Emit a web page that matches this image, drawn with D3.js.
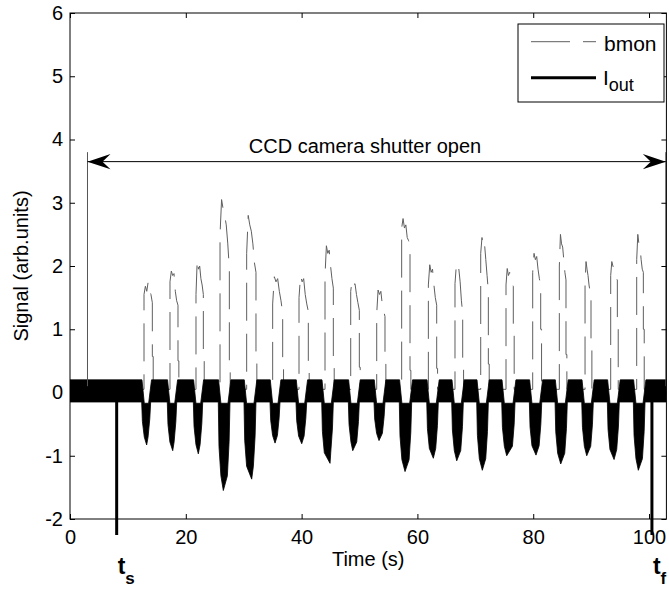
<!DOCTYPE html>
<html>
<head>
<meta charset="utf-8">
<script src="https://cdn.jsdelivr.net/npm/d3@7"></script>
<style>
  html, body { margin: 0; padding: 0; background: #fff; }
  svg { display: block; font-family: "Liberation Sans", Arial, Helvetica, sans-serif; }
</style>
</head>
<body>
<div id="chart"></div>
<script>
// ticks
const xTicks = [0, 20, 40, 60, 80, 100];
const yTicks = [-2, -1, 0, 1, 2, 3, 4, 5, 6];

// bmon pulses: rise / fall time (s), top trace samples, level of the step after the fall
const bmonRise = [12.78, 17.27, 21.76, 25.91, 30.51, 35.0, 39.55, 44.04, 48.48, 52.97,
  57.28, 61.89, 66.49, 70.93, 75.3, 79.91, 84.51, 88.95, 93.38, 97.87];
const bmonFall = [14.22, 18.65, 23.03, 27.52, 32.12, 36.73, 41.16, 45.48, 49.97, 54.4,
  58.72, 63.33, 67.82, 72.25, 76.56, 81.29, 85.66, 89.98, 94.53, 99.02];
const bmonTop = [
  [1.55, 1.68, 1.6, 1.75, 1.62, 1.55, 1.42],
  [1.75, 1.92, 1.85, 1.88, 1.6, 1.45, 1.38],
  [1.55, 2.1, 1.95, 2.0, 1.8, 1.7, 1.55],
  [2.5, 3.05, 2.9, 2.8, 2.65, 2.35, 1.95],
  [2.2, 2.8, 2.65, 2.55, 2.35, 2.05, 1.9],
  [1.4, 1.83, 1.75, 1.8, 1.6, 1.45, 1.25],
  [1.5, 1.85, 1.75, 1.8, 1.55, 1.4, 1.28],
  [1.85, 2.32, 2.2, 2.25, 2.0, 1.8, 1.65],
  [1.6, 1.78, 1.7, 1.72, 1.55, 1.42, 1.3],
  [1.25, 1.62, 1.55, 1.6, 1.4, 1.3, 1.2],
  [2.6, 2.75, 2.6, 2.65, 2.45, 2.4, 2.3],
  [1.7, 2.02, 1.9, 1.95, 1.7, 1.5, 1.38],
  [1.72, 2.0, 1.9, 1.95, 1.75, 1.45, 1.25],
  [2.2, 2.45, 2.3, 2.35, 2.1, 1.85, 1.6],
  [1.7, 1.96, 1.85, 1.9, 1.8, 1.72, 1.68],
  [1.9, 2.2, 2.1, 2.15, 1.95, 1.8, 1.7],
  [2.0, 2.5, 2.35, 2.3, 2.1, 1.9, 1.78],
  [1.72, 2.07, 1.95, 1.85, 1.7, 1.6, 1.6],
  [1.85, 2.07, 2.0, 1.95, 1.85, 1.8, 1.78],
  [2.1, 2.5, 2.35, 2.3, 2.1, 1.95, 1.9]
];
const bmonStep = [0.57, 0.5, 0.52, 0.5, 0.5, 0.42, 0.42, 0.42, 0.4, 0.45,
  0.35, 0.38, 0.36, 0.45, 1.0, 1.0, 0.6, 0.85, 1.0, 1.0];

// Iout: noisy band plus negative dips (start, time of minimum, minimum, end)
const ioutHi = 0.2, ioutLo = -0.15, notchLo = -0.17;
const dipStart = [12.38, 16.80, 21.30, 25.61, 30.05, 34.54, 39.03, 43.47, 48.07, 52.50,
  56.87, 61.61, 65.92, 70.24, 74.56, 79.33, 83.77, 88.38, 92.80, 97.29];
const dipMinT = [13.24, 17.74, 22.16, 26.48, 31.38, 35.41, 40.02, 44.91, 48.83, 53.37,
  57.86, 62.75, 66.79, 71.21, 75.42, 80.48, 84.75, 89.24, 93.96, 98.15];
const dipMin = [-0.83, -0.92, -0.97, -1.55, -1.37, -0.80, -0.81, -1.12, -0.92, -0.76,
  -1.25, -1.04, -1.08, -1.23, -1.0, -0.99, -1.13, -1.0, -1.06, -1.23];
const dipEnd = [13.93, 18.43, 22.92, 27.63, 32.12, 36.27, 40.88, 45.48, 49.97, 54.40,
  59.01, 63.61, 67.93, 72.25, 76.86, 81.47, 85.89, 90.38, 94.87, 99.31];

// annotations
const shutterT = [3.02, 102.9], shutterTop = 3.8, arrowY = 3.65;
const markT = [8.06, 100.5], markSub = ["s", "f"];

const W = 669, H = 592;
const m = { l: 70, t: 13, r: 2.6, b: 73 };
const svg = d3.select("#chart").append("svg").attr("width", W).attr("height", H);

const x = d3.scaleLinear().domain([0, 103]).range([m.l, W - m.r]);
const y = d3.scaleLinear().domain([-2, 6]).range([H - m.b, m.t]);
const [x0, x1] = x.range(), [y0, y1] = y.range();

svg.append("clipPath").attr("id", "plot").append("rect")
  .attr("x", x0).attr("y", y1).attr("width", x1 - x0).attr("height", y0 - y1);
const plot = svg.append("g").attr("clip-path", "url(#plot)");

// bmon trace
const bpts = [[0, 0.05]];
bmonRise.forEach((r, i) => {
  const f = bmonFall[i], top = bmonTop[i], n = top.length;
  bpts.push([r, 0.05]);
  top.forEach((v, k) => bpts.push([r + (f - r) * k / (n - 1), v]));
  bpts.push([f, bmonStep[i]], [f + 0.15, bmonStep[i]], [f + 0.15, 0.05]);
});
bpts.push([103, 0.05]);
const line = d3.line().x(d => x(d[0])).y(d => y(d[1]));
plot.append("path").datum(bpts).attr("d", line)
  .attr("fill", "none").attr("stroke", "#5f5f5f").attr("stroke-width", 1)
  .attr("stroke-dasharray", "38,13");

// shutter markers (gray)
shutterT.forEach(t => {
  svg.append("line").attr("x1", x(t)).attr("x2", x(t)).attr("y1", y(shutterTop)).attr("y2", y(0.1))
    .attr("stroke", "#555").attr("stroke-width", 1);
});

// Iout band
const up = [[0, ioutHi]], lo = [[0, ioutLo]];
dipStart.forEach((t0, i) => {
  const t1 = dipEnd[i], tm = dipMinT[i], vm = dipMin[i];
  up.push([t0 + 0.05, ioutHi], [t0 + 0.45, notchLo], [t1 - 0.35, notchLo], [t1 + 0.15, ioutHi]);
  lo.push([t0, ioutLo], [t0 + 0.12, vm * 0.55], [Math.min(t0 + 0.45, tm - 0.1), vm * 0.85], [tm, vm],
    [Math.max(t1 - 0.45, tm + 0.1), vm * 0.85], [t1 - 0.15, vm * 0.5], [t1, ioutLo]);
});
up.push([103, ioutHi]); lo.push([103, ioutLo]);
plot.append("path").datum(up.concat(lo.reverse()))
  .attr("d", d => line(d) + "Z")
  .attr("fill", "#000").attr("stroke", "#000").attr("stroke-width", 0.8).attr("stroke-linejoin", "round");

// t_s / t_f markers
markT.forEach((t, i) => {
  svg.append("line").attr("x1", x(t)).attr("x2", x(t)).attr("y1", y(0)).attr("y2", 535)
    .attr("stroke", "#000").attr("stroke-width", 3);
  const tx = svg.append("text").attr("x", x(t) + 1).attr("y", 574)
    .attr("font-weight", "bold").attr("font-size", 23);
  tx.append("tspan").text("t");
  tx.append("tspan").attr("dy", 10).attr("font-size", 17).text(markSub[i]);
});

// axes box + ticks
const axG = svg.append("g");
axG.append("rect").attr("x", x0).attr("y", y1).attr("width", x1 - x0).attr("height", y0 - y1)
  .attr("fill", "none").attr("stroke", "#000").attr("stroke-width", 1);
const fs = 20;
axG.append("g").attr("transform", `translate(${x0},0)`)
  .call(d3.axisLeft(y).tickValues(yTicks).tickSize(-5).tickPadding(7).tickFormat(d => String(d)));
axG.append("g").attr("transform", `translate(${x1},0)`)
  .call(d3.axisRight(y).tickValues(yTicks).tickSize(-5).tickFormat(""));
axG.append("g").attr("transform", `translate(0,${y0})`)
  .call(d3.axisBottom(x).tickValues(xTicks).tickSize(-5).tickPadding(11).tickFormat(d => String(d)));
axG.append("g").attr("transform", `translate(0,${y1})`)
  .call(d3.axisTop(x).tickValues(xTicks).tickSize(-5).tickFormat(""));
axG.selectAll(".domain").remove();
axG.selectAll(".tick line").attr("stroke", "#000");
axG.selectAll(".tick text").attr("font-size", fs).attr("font-family", null).attr("fill", "#000");

// axis labels
svg.append("text").attr("x", (x0 + x1) / 2).attr("y", 566).attr("text-anchor", "middle")
  .attr("font-size", fs).text("Time (s)");
svg.append("text").attr("transform", `translate(28,${(y0 + y1) / 2}) rotate(-90)`)
  .attr("text-anchor", "middle").attr("font-size", fs).text("Signal (arb.units)");

// shutter-open double arrow
const ay = y(arrowY), ax0 = x(shutterT[0]), ax1 = x(shutterT[1]);
svg.append("line").attr("x1", ax0).attr("x2", ax1).attr("y1", ay).attr("y2", ay)
  .attr("stroke", "#000").attr("stroke-width", 1);
const head = (tip, dir) => `M${tip},${ay} L${tip + dir * 23},${ay - 7.7} L${tip + dir * 15},${ay} L${tip + dir * 23},${ay + 7.7} Z`;
svg.append("path").attr("d", head(ax0, 1)).attr("fill", "#000");
svg.append("path").attr("d", head(ax1, -1)).attr("fill", "#000");
svg.append("text").attr("x", 365).attr("y", ay - 9).attr("text-anchor", "middle")
  .attr("font-size", fs).text("CCD camera shutter open");

// legend
const lg = svg.append("g");
lg.append("rect").attr("x", 518).attr("y", 24).attr("width", 146).attr("height", 78)
  .attr("fill", "#fff").attr("stroke", "#000").attr("stroke-width", 1);
lg.append("line").attr("x1", 531).attr("x2", 596).attr("y1", 41.7).attr("y2", 41.7)
  .attr("stroke", "#5f5f5f").attr("stroke-width", 1).attr("stroke-dasharray", "39,13");
lg.append("text").attr("x", 604).attr("y", 50.7).attr("font-size", 21).text("bmon");
lg.append("line").attr("x1", 531).attr("x2", 596).attr("y1", 77.7).attr("y2", 77.7)
  .attr("stroke", "#000").attr("stroke-width", 3);
const it = lg.append("text").attr("x", 603).attr("y", 85).attr("font-size", 21);
it.append("tspan").text("I");
it.append("tspan").attr("dy", 6).attr("font-size", 18).text("out");
</script>
</body>
</html>
